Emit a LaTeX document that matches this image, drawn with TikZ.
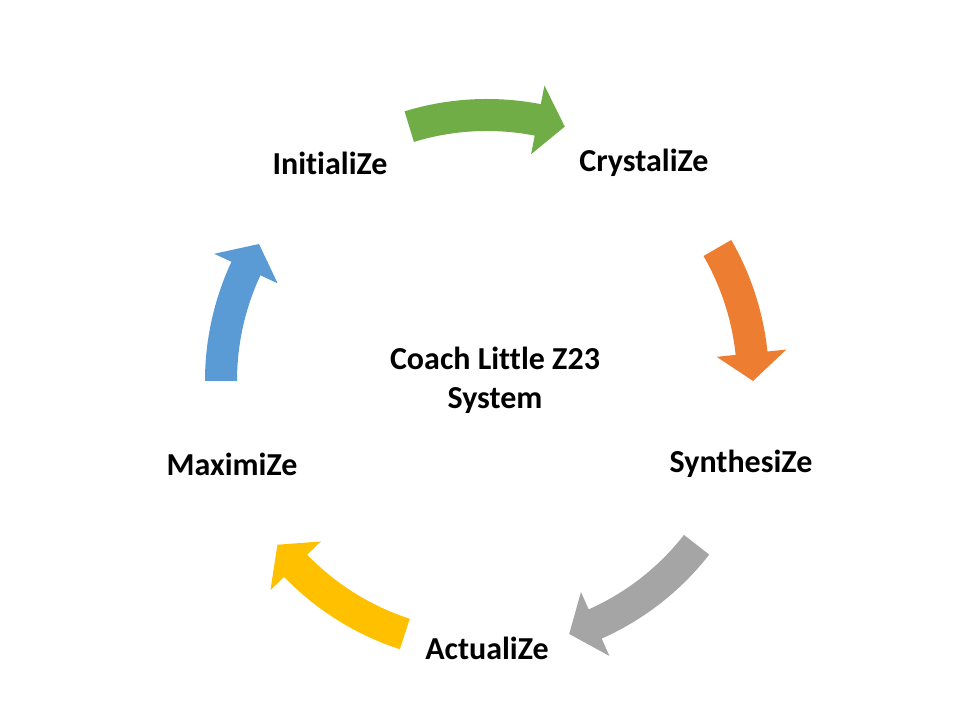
\documentclass[tikz,border=0pt]{standalone}
\usepackage{fontspec}
\setmainfont{Carlito}[Ligatures=NoCommon]
\usepackage{xcolor}
\usepackage{tikz}
\usetikzlibrary{positioning}
\definecolor{leaf}{HTML}{70AD47}
\definecolor{ember}{HTML}{ED7D31}
\definecolor{stone}{HTML}{A5A5A5}
\definecolor{sun}{HTML}{FFC000}
\definecolor{sky}{HTML}{5B9BD5}

\begin{document}
\begin{tikzpicture}[x=0.75pt,y=0.75pt,
  stage/.style={font=\fontsize{24}{29}\selectfont\bfseries,align=center,inner sep=0pt}]
  \useasboundingbox (0,0) rectangle (960,720);
  \node[stage] (init)  at (330,557) {InitialiZe};
  \node[stage] (cryst) at (644,557) {CrystaliZe};
  \node[stage] (synth) at (741,256) {SynthesiZe};
  \node[stage] (actu)  at (487,72)  {ActualiZe};
  \node[stage] (maxi)  at (232,256) {MaximiZe};
  \node[stage] (core)  at (495,340) {Coach Little Z23\\System};
  % curved arrows round the cycle
  \begin{scope}[shift={(487,339)}]
    \foreach \a/\b/\col [evaluate=\b as \hb using \b+6] in {107/73/leaf,30/0/ember,-38/-72/stone,-108/-142/sun,180/149/sky}{
      \fill[\col] (\a:282) arc[start angle=\a,end angle=\hb,radius=282] -- (\hb:301) -- (\b:266) -- (\hb:231) -- (\hb:250) arc[start angle=\hb,end angle=\a,radius=250] -- cycle;
    }
  \end{scope}
\end{tikzpicture}
\end{document}
